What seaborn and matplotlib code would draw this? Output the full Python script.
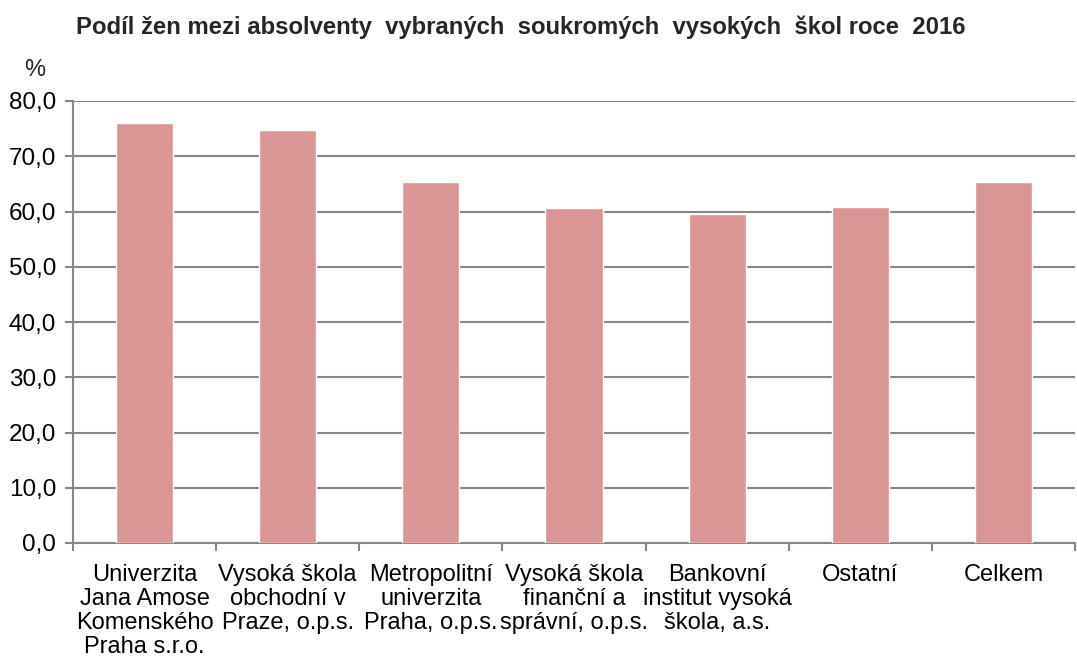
"""
Podíl žen mezi absolventy vybraných soukromých vysokých škol, 2016
"""
import matplotlib
matplotlib.use('Agg')
import matplotlib.pyplot as plt
import pandas as pd
import seaborn as sns

categories = [
    'Univerzita\nJana Amose\nKomenského\nPraha s.r.o.',
    'Vysoká škola\nobchodní v\nPraze, o.p.s.',
    'Metropolitní\nuniverzita\nPraha, o.p.s.',
    'Vysoká škola\nfinanční a\nsprávní, o.p.s.',
    'Bankovní\ninstitut vysoká\nškola, a.s.',
    'Ostatní',
    'Celkem',
]
share_women = [76.1, 74.7, 65.3, 60.6, 59.5, 60.9, 65.3]
y_ticks = [0, 10, 20, 30, 40, 50, 60, 70, 80]

sns.set_theme(style='white')
plt.rcParams['font.family'] = ['Liberation Sans', 'DejaVu Sans']

df = pd.DataFrame({'cat': categories, 'val': share_women})

fig = plt.figure(figsize=(10.77, 6.6), dpi=100)
ax = fig.add_axes([73 / 1077, 1 - 543 / 660, 1002 / 1077, 442 / 660])

sns.barplot(data=df, x='cat', y='val', color='#D99694', width=0.4,
            saturation=1, ax=ax, zorder=3)

ax.set_ylim(0, 80)
ax.set_xlim(-0.5, len(categories) - 0.5)
ax.set_yticks(y_ticks)
ax.set_yticklabels([f'{v:.1f}'.replace('.', ',') for v in y_ticks])
ax.yaxis.grid(True, color='#878787', linewidth=1.5, zorder=0)
ax.set_xlabel('')
ax.set_ylabel('')

for side in ['top', 'right']:
    ax.spines[side].set_visible(False)
for side in ['left', 'bottom']:
    ax.spines[side].set_color('#878787')
    ax.spines[side].set_linewidth(1.5)

# tick marks between categories like the original
ax.set_xticks(range(len(categories)))
ax.set_xticks([i - 0.5 for i in range(len(categories) + 1)], minor=True)
ax.tick_params(axis='x', which='major', length=0, pad=15, labelsize=17,
               colors='black')
ax.tick_params(axis='x', which='minor', length=6, width=1.5,
               color='#878787', direction='out', bottom=True)
ax.tick_params(axis='y', length=6, width=1.5, color='#878787', left=True,
               labelsize=17.5, colors='black', pad=6)
for lbl in ax.get_xticklabels():
    lbl.set_linespacing(1.12)

fig.text(521 / 1077, 1 - 27 / 660,
         'Podíl žen mezi absolventy  vybraných  soukromých  vysokých  škol roce  2016',
         ha='center', va='center', fontsize=17.2, fontweight='bold')
fig.text(35 / 1077, 1 - 70 / 660, '%', ha='center', va='center', fontsize=17)

plt.savefig('out.png', dpi=100)
plt.close()
